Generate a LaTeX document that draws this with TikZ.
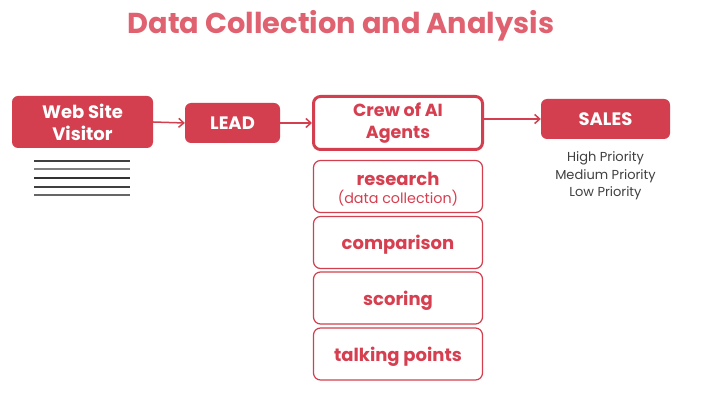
\documentclass[tikz,border=0pt]{standalone}
\usepackage{fontspec}
\setmainfont{Poppins}
\usetikzlibrary{arrows.meta}
\definecolor{crimson}{HTML}{D33F4E}
\definecolor{titlered}{HTML}{E0616F}
\definecolor{agentred}{HTML}{D63F50}
\definecolor{prioritygray}{HTML}{404040}
\tikzset{
  solidbox/.style={fill=crimson, rounded corners=6pt, text=white, align=center,
    inner sep=0pt, font=\bfseries\fontsize{18}{22}\selectfont},
  crewbox/.style={draw=crimson, line width=3pt, fill=white, rounded corners=7pt,
    text=agentred, align=center, inner sep=0pt, font=\bfseries\fontsize{17.5}{22}\selectfont},
  taskbox/.style={draw=crimson, line width=1.2pt, rounded corners=7pt, text=agentred,
    align=center, inner sep=0pt, minimum width=169pt, minimum height=52pt,
    font=\bfseries\fontsize{18}{19}\selectfont},
  oneline/.style={text height=18pt, text depth=4pt},
  flow/.style={draw=crimson, line width=1.5pt, -{Straight Barb[length=5pt,width=9pt]}}
}
\begin{document}
\begin{tikzpicture}[x=1pt, y=-1pt]
	\useasboundingbox[fill=white] (0,0) rectangle (714,403);
	
	% --- title ---
	\node[text=titlered, font=\bfseries\fontsize{28.8}{30}\selectfont] (title) at (341,26) {Data Collection and Analysis};
	
	% --- main row ---
	\node[solidbox, minimum width=141pt, minimum height=52pt] (visitor) at (82.5,122) {Web Site\\Visitor};
	\node[solidbox, oneline, minimum width=95pt, minimum height=40pt] (lead) at (232.5,123) {LEAD};
	\node[crewbox, minimum width=169pt, minimum height=53pt] (crew) at (398,123) {Crew of AI\\Agents};
	\node[solidbox, oneline, minimum width=129pt, minimum height=40pt] (sales) at (605.5,119) {SALES};
	
	% lines under the visitor box
	\foreach \y/\c in {161/black!75, 169/black!50, 178/black!80, 187/black!75, 195/black!60}
		\draw[\c, line width=1.2pt] (34,\y) -- (130,\y);
	
	% priorities
	\node[text=prioritygray, align=center, font=\fontsize{13}{17.5}\selectfont] (prio) at (605.5,176) {High Priority\\Medium Priority\\Low Priority};
	
	% --- tasks of the crew ---
	\node[taskbox] (research) at (398,186.5) {\rule{0pt}{18pt}research\\[-1pt]{\mdseries\fontsize{14.3}{16}\selectfont(data collection)}};
	\node[taskbox, oneline] (comparison) at (398,242.5) {comparison};
	\node[taskbox, oneline] (scoring) at (398,298) {scoring};
	\node[taskbox, oneline] (talking) at (398,354) {talking points};
	
	% --- arrows ---
	\draw[flow] (visitor.east) -- (lead.west);
	\draw[flow] (lead.east) -- (crew.west);
	\draw[flow] (crew.east |- sales.west) -- (sales.west);
	
\end{tikzpicture}
\end{document}
